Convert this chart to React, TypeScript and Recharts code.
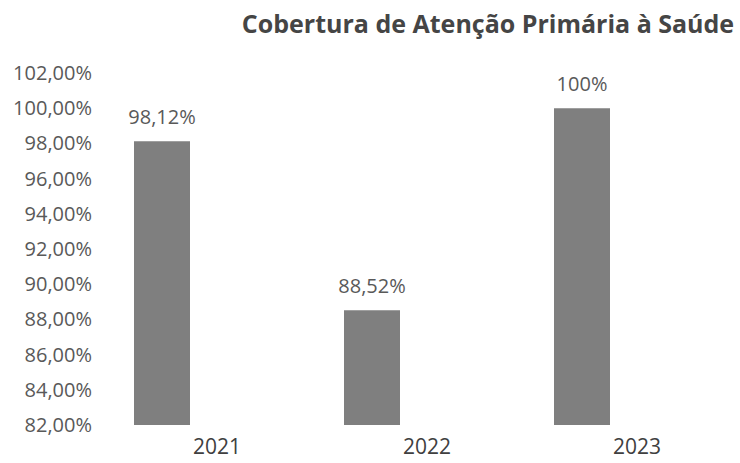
import { Bar, BarChart, LabelList, XAxis, YAxis } from "recharts";

const YEARS = ["2021", "2022", "2023"];
const COVERAGE = [98.12, 88.52, 100];
const VALUE_LABELS = ["98,12%", "88,52%", "100%"];
const Y_TICKS = [82, 84, 86, 88, 90, 92, 94, 96, 98, 100, 102];

const BAR = "#7f7f7f";
const TEXT = "#595959";
const FONT = "'Open Sans', sans-serif";

const data = YEARS.map((year, i) => ({
  year,
  value: COVERAGE[i],
  label: VALUE_LABELS[i],
}));

const pct = (v: number) => `${v.toFixed(2).replace(".", ",")}%`;

function YTick({ x, y, payload }: { x?: number; y?: number; payload?: { value: number } }) {
  return (
    <text x={(x ?? 0) + 35} y={y} dy={7} textAnchor="end" fontSize={20} fill={TEXT} fontFamily={FONT}>
      {pct(payload?.value ?? 0)}
    </text>
  );
}

// year labels sit a bit to the right of their bars, as in the source
function XTick({ x, y, payload }: { x?: number; y?: number; payload?: { value: string } }) {
  return (
    <text x={(x ?? 0) + 55} y={y} dy={29} textAnchor="middle" fontSize={21} fill="#404040" fontFamily={FONT}>
      {payload?.value}
    </text>
  );
}

export default function App() {
  return (
    <div style={{ width: 740, height: 463, position: "relative", background: "#fff", overflow: "hidden" }}>
      <style>{"body{margin:0}"}</style>
      <div
        style={{
          position: "absolute",
          top: 6,
          left: 240,
          width: 496,
          textAlign: "center",
          fontFamily: FONT,
          fontWeight: 700,
          fontSize: 25,
          color: "#454545",
          whiteSpace: "nowrap",
        }}
      >
        Cobertura de Atenção Primária à Saúde
      </div>
      <BarChart width={740} height={463} data={data} margin={{ top: 73, right: 53, bottom: 0, left: 0 }}>
        <XAxis dataKey="year" axisLine={false} tickLine={false} tickSize={0} tickMargin={0} height={38} tick={<XTick />} />
        <YAxis
          type="number"
          domain={[82, 102]}
          ticks={Y_TICKS}
          allowDataOverflow
          width={57}
          axisLine={false}
          tickLine={false}
          tickSize={0}
          tickMargin={0}
          tick={<YTick />}
        />
        <Bar dataKey="value" fill={BAR} barSize={56} isAnimationActive={false}>
          <LabelList dataKey="label" position="top" offset={17} fontSize={20} fill={TEXT} fontFamily={FONT} />
        </Bar>
      </BarChart>
    </div>
  );
}
